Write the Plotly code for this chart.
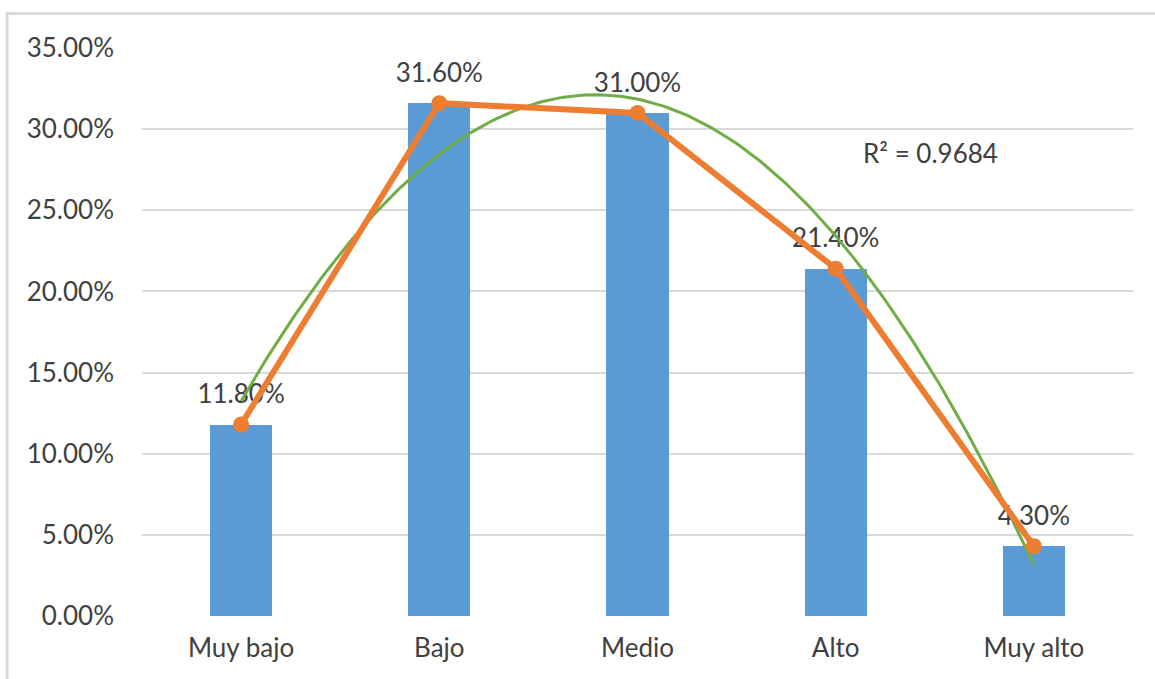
import numpy as np
import plotly.graph_objects as go

categories = ["Muy bajo", "Bajo", "Medio", "Alto", "Muy alto"]
values = [0.118, 0.316, 0.310, 0.214, 0.043]
labels = ["11.80%", "31.60%", "31.00%", "21.40%", "4.30%"]
y_ticks = [0, 0.05, 0.10, 0.15, 0.20, 0.25, 0.30, 0.35]
y_tick_text = ["0.00%", "5.00%", "10.00%", "15.00%", "20.00%", "25.00%", "30.00%", "35.00%"]

W, H = 1155, 679
ML, MR, MT, MB = 142, 21.5, 47.5, 63

xpos = np.arange(len(categories))
coef = np.polyfit(xpos, values, 2)
xs = np.linspace(0, len(categories) - 1, 200)
ys = np.polyval(coef, xs)
pred = np.polyval(coef, xpos)
yv = np.array(values)
r2 = 1 - np.sum((yv - pred) ** 2) / np.sum((yv - yv.mean()) ** 2)

FONT = "Lato"
TXT = "#404040"
FS = 26

fig = go.Figure()
fig.add_trace(go.Bar(x=xpos, y=values, width=0.313, marker=dict(color="#5B9BD5", line=dict(width=0)),
                     hoverinfo="skip", showlegend=False))
# data labels (drawn beneath the lines, as in the reference)
fig.add_trace(go.Scatter(x=xpos, y=values, mode="markers+text", text=labels, textposition="top center",
                         marker=dict(size=22, color="rgba(0,0,0,0)"),
                         textfont=dict(family=FONT, size=FS, color=TXT),
                         showlegend=False, hoverinfo="skip"))
fig.add_trace(go.Scatter(x=xs, y=ys, mode="lines", line=dict(color="#70AD47", width=3),
                         showlegend=False, hoverinfo="skip"))
fig.add_trace(go.Scatter(x=xpos, y=values, mode="lines+markers",
                         line=dict(color="#ED7D31", width=6),
                         marker=dict(color="#ED7D31", size=16),
                         showlegend=False))

fig.add_annotation(x=3.48, y=0.285, xref="x", yref="y", text="R² = %.4f" % r2, showarrow=False,
                   font=dict(family=FONT, size=FS, color=TXT))

# outer border (top and left visible)
px2x = lambda p: (p - ML) / (W - ML - MR)
py2y = lambda p: 1 - (p - MT) / (H - MT - MB)
fig.add_shape(type="rect", xref="paper", yref="paper",
              x0=px2x(7), x1=px2x(1170), y0=py2y(700), y1=py2y(13),
              line=dict(color="#D9D9D9", width=3), fillcolor="rgba(0,0,0,0)", layer="below")

fig.update_layout(
    width=W, height=H, margin=dict(l=ML, r=MR, t=MT, b=MB),
    paper_bgcolor="white", plot_bgcolor="white",
    font=dict(family=FONT, size=FS, color=TXT),
    bargap=0,
)
fig.update_xaxes(range=[-0.5, 4.5], tickvals=list(xpos), ticktext=categories, showgrid=False,
                 zeroline=False, showline=False, ticks="", ticklabelstandoff=14,
                 tickfont=dict(family=FONT, size=FS, color=TXT))
fig.update_yaxes(range=[0, 0.35], tickvals=y_ticks, ticktext=y_tick_text, showgrid=True,
                 gridcolor="#D9D9D9", gridwidth=2, zeroline=False, showline=False, ticks="",
                 ticklabelstandoff=27, tickfont=dict(family=FONT, size=FS, color=TXT))
fig.write_html("out.html")
